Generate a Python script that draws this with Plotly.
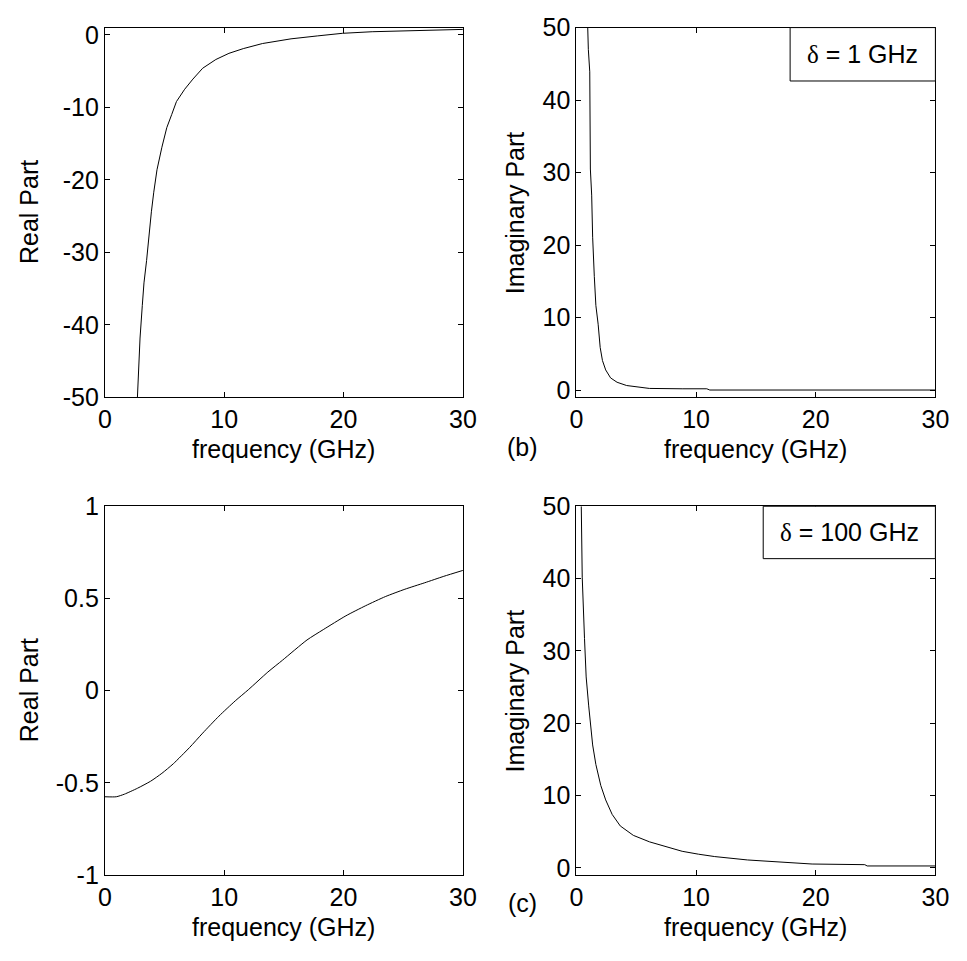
import plotly.graph_objects as go

# ---- data: permittivity vs frequency (GHz) ----
# (a) real part, delta = 1 GHz
freq_re_1 = [2.73, 2.8, 2.95, 3.14, 3.28, 3.5, 3.7, 3.9, 4.1, 4.37, 4.78, 5.19, 5.6, 6.0,
             6.69, 7.38, 8.2, 9.3, 10.4, 11.6, 13.2, 15.6, 17.8, 19.9, 22.4, 25.0, 27.3, 30.0]
real_1 = [-50.0, -46.7, -41.8, -37.3, -34.2, -31.1, -27.5, -24.4, -21.7, -18.6, -15.5, -12.8,
          -11.0, -9.2, -7.5, -6.1, -4.6, -3.4, -2.55, -1.9, -1.2, -0.55, -0.15, 0.21, 0.43,
          0.57, 0.66, 0.75]

# (b) imaginary part, delta = 1 GHz
freq_im_1 = [0.95, 1.0, 1.12, 1.17, 1.28, 1.36, 1.5, 1.63, 1.82, 1.99, 2.18, 2.45, 2.86, 3.4,
             4.2, 5.3, 6.1, 8.84, 10.9, 11.15, 30.0]
imag_1 = [50.0, 47.0, 43.9, 30.5, 26.9, 21.1, 15.7, 11.7, 9.1, 5.9, 4.1, 2.8, 1.7, 1.1,
          0.65, 0.43, 0.25, 0.2, 0.2, 0.03, 0.03]

# (c) real part, delta = 100 GHz
freq_re_100 = [0.0, 0.96, 1.64, 2.73, 3.83, 4.78, 5.74, 7.1, 8.2, 9.56, 10.93, 12.02, 13.66,
               14.9, 16.94, 18.3, 20.2, 21.86, 23.5, 25.14, 26.8, 28.4, 30.0]
real_100 = [-0.575, -0.575, -0.561, -0.529, -0.491, -0.448, -0.396, -0.308, -0.230, -0.138,
            -0.055, 0.005, 0.101, 0.166, 0.275, 0.331, 0.406, 0.461, 0.510, 0.550, 0.585,
            0.620, 0.652]

# (c) imaginary part, delta = 100 GHz
freq_im_100 = [0.41, 0.49, 0.68, 0.82, 1.03, 1.17, 1.36, 1.63, 2.04, 2.45, 2.99, 3.67, 4.76,
               6.12, 7.48, 8.84, 10.2, 11.56, 14.3, 17.0, 18.6, 19.7, 24.1, 24.3, 30.0]
imag_100 = [50.0, 40.2, 31.7, 26.4, 22.4, 19.7, 17.0, 14.3, 11.4, 9.4, 7.4, 5.8, 4.5, 3.6,
            2.9, 2.3, 1.9, 1.57, 1.1, 0.8, 0.6, 0.54, 0.45, 0.27, 0.27]

# tick values / labels
freq_ticks = [0, 10, 20, 30]
freq_tick_text = ["0", "10", "20", "30"]
re1_ticks = [-50, -40, -30, -20, -10, 0]
re1_tick_text = ["-50", "-40", "-30", "-20", "-10", "0"]
im_ticks = [0, 10, 20, 30, 40, 50]
im_tick_text = ["0", "10", "20", "30", "40", "50"]
re100_ticks = [-1, -0.5, 0, 0.5, 1]
re100_tick_text = ["-1", "-0.5", "0", "0.5", "1"]

W, H = 967, 961
FONT = "Liberation Sans, Arial, sans-serif"
FS = 25

def px_x(p):
    return p / W

def px_y(p):
    return 1 - p / H

# panel frames in pixels: (left, right, top, bottom)
frames = {
    "1": (100, 466, 14, 395),
    "2": (582, 949, 14, 395),
    "3": (100, 466, 507, 887),
    "4": (582, 949, 507, 887),
}

fig = go.Figure()
line = dict(color="black", width=1)
fig.add_trace(go.Scatter(x=freq_re_1, y=real_1, mode="lines", line=line, xaxis="x", yaxis="y"))
fig.add_trace(go.Scatter(x=freq_im_1, y=imag_1, mode="lines", line=line, xaxis="x2", yaxis="y2"))
fig.add_trace(go.Scatter(x=freq_re_100, y=real_100, mode="lines",
                         line=dict(line, shape="spline", smoothing=0.6), xaxis="x3", yaxis="y3"))
fig.add_trace(go.Scatter(x=freq_im_100, y=imag_100, mode="lines", line=line, xaxis="x4", yaxis="y4"))

axis_common = dict(
    showline=True, linecolor="black", linewidth=1, mirror="ticks",
    ticks="inside", ticklen=5, tickwidth=1, tickcolor="black",
    showgrid=False, zeroline=False,
    tickfont=dict(family=FONT, size=FS, color="black"),
)

yspec = {
    "1": ([-50, 1], re1_ticks, re1_tick_text),
    "2": ([-1, 50], im_ticks, im_tick_text),
    "3": ([-1, 1], re100_ticks, re100_tick_text),
    "4": ([-1, 50], im_ticks, im_tick_text),
}

layout = dict(
    width=W, height=H, margin=dict(l=0, r=0, t=0, b=0),
    paper_bgcolor="white", plot_bgcolor="white", showlegend=False,
    font=dict(family=FONT, size=FS, color="black"),
)

for k, (l, r, t, b) in frames.items():
    sfx = "" if k == "1" else k
    yr, yt, ytt = yspec[k]
    layout["xaxis" + sfx] = dict(
        axis_common, domain=[px_x(l), px_x(r)], range=[0, 30],
        tickvals=freq_ticks, ticktext=freq_tick_text, anchor="y" + sfx,
    )
    layout["yaxis" + sfx] = dict(
        axis_common, domain=[px_y(b), px_y(t)], range=yr,
        tickvals=yt, ticktext=ytt, anchor="x" + sfx,
    )

fig.update_layout(**layout)

ann = []
shapes = []

def text(x, y, s, rot=0):
    ann.append(dict(x=px_x(x), y=px_y(y), xref="paper", yref="paper", text=s,
                    showarrow=False, textangle=rot, xanchor="center", yanchor="middle",
                    font=dict(family=FONT, size=FS, color="black")))

# axis titles
for k, (l, r, t, b) in frames.items():
    text((l + r) / 2, b + 53, "frequency (GHz)")
text(22, (14 + 395) / 2, "Real Part", -90)
text(519, (14 + 395) / 2, "Imaginary Part", -90)
text(22, (507 + 887) / 2, "Real Part", -90)
text(519, (507 + 887) / 2, "Imaginary Part", -90)

# panel tags
text(527, 446, "(b)")
text(527, 916, "(c)")

# legend-style boxes with the damping value
delta = '<span style="font-family:Liberation Serif, serif">δ</span>'
for k, x0, y1, label in (("2", 800.5, 69, delta + " = 1 GHz"), ("4", 773, 561, delta + " = 100 GHz")):
    l, r, t, b = frames[k]
    shapes.append(dict(type="rect", xref="paper", yref="paper",
                       x0=px_x(x0), x1=px_x(r), y0=px_y(y1), y1=px_y(t),
                       line=dict(color="black", width=1), fillcolor="white", layer="above"))
    text((x0 + r) / 2, (t + y1) / 2, label)

fig.update_layout(annotations=ann, shapes=shapes)
fig.write_html("out.html")
